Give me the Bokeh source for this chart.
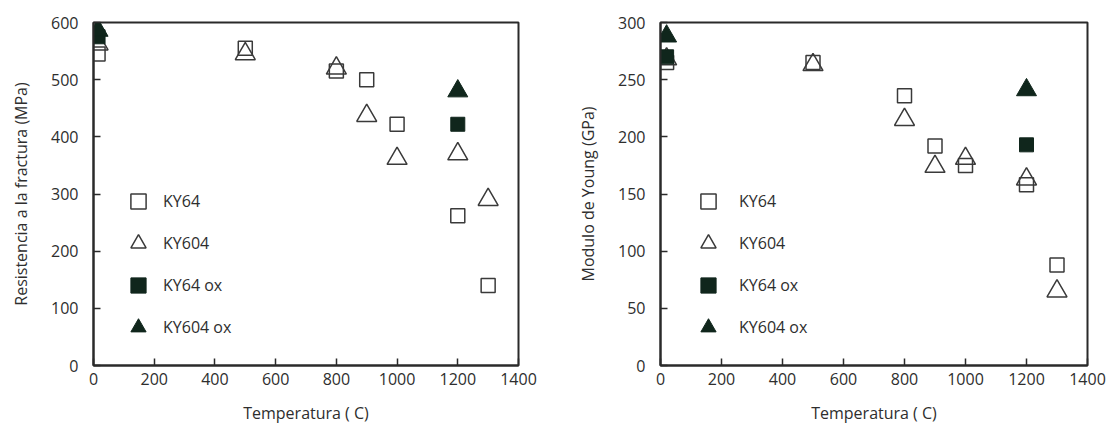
from bokeh.plotting import figure
from bokeh.models import Legend, LegendItem, FixedTicker, Range1d
from bokeh.layouts import row
from bokeh.embed import file_html
from bokeh.resources import INLINE

# ---- data: left panel (fracture strength, MPa) ----
t_ky64_l = [15, 500, 800, 900, 1000, 1200, 1300]
s_ky64 = [545, 555, 515, 500, 422, 262, 140]
t_ky604_l = [15, 500, 800, 900, 1000, 1200, 1300]
s_ky604 = [562, 545, 520, 437, 362, 370, 290]
t_ky64ox_l = [15, 1200]
s_ky64ox = [575, 422]
t_ky604ox_l = [15, 1200]
s_ky604ox = [586, 480]

# ---- data: right panel (Young's modulus, GPa) ----
t_ky64_r = [20, 500, 800, 900, 1000, 1200, 1300]
e_ky64 = [265, 265, 236, 192, 175, 158, 88]
t_ky604_r = [20, 500, 800, 900, 1000, 1200, 1300]
e_ky604 = [268, 263, 215, 174, 181, 163, 65]
t_ky64ox_r = [20, 1200]
e_ky64ox = [270, 193]
t_ky604ox_r = [20, 1200]
e_ky604ox = [288, 241]

series_names = ["KY64", "KY604", "KY64 ox", "KY604 ox"]
x_ticks = [0, 200, 400, 600, 800, 1000, 1200, 1400]
y_ticks_l = [0, 100, 200, 300, 400, 500, 600]
y_ticks_r = [0, 50, 100, 150, 200, 250, 300]

FONT = "Open Sans"
LINE = "#3a3a3a"
FILL = "#10261c"


def make_panel(xs, ys, y_max, y_ticks, y_title, min_left, min_right, frame_w,
               leg_x, leg_standoff, title_standoff):
    p = figure(frame_width=frame_w, frame_height=343,
               min_border_left=min_left, min_border_right=min_right,
               min_border_top=22, min_border_bottom=20,
               x_range=Range1d(0, 1400), y_range=Range1d(0, y_max),
               output_backend="svg", toolbar_location=None)
    p.grid.visible = False
    p.outline_line_color = "#2a2a2a"
    p.outline_line_width = 2
    p.background_fill_color = "white"
    p.border_fill_color = "white"

    for ax in (p.xaxis[0], p.yaxis[0]):
        ax.axis_line_color = "#2a2a2a"
        ax.axis_line_width = 2
        ax.major_tick_in = 7
        ax.major_tick_out = 0
        ax.major_tick_line_color = "#2a2a2a"
        ax.major_tick_line_width = 1.5
        ax.minor_tick_line_color = None
        ax.major_label_text_font = FONT
        ax.major_label_text_font_size = "16px"
        ax.major_label_text_color = "#2e2e2e"
        ax.axis_label_text_font = FONT
        ax.axis_label_text_font_size = "16px"
        ax.axis_label_text_font_style = "normal"
        ax.axis_label_text_color = "#2e2e2e"

    p.xaxis.ticker = FixedTicker(ticks=x_ticks)
    p.yaxis.ticker = FixedTicker(ticks=y_ticks)
    p.xaxis.major_label_standoff = 7
    p.yaxis.major_label_standoff = 15
    p.xaxis.axis_label = "Temperatura ( C)"
    p.xaxis.axis_label_standoff = 14
    p.yaxis.axis_label = y_title
    p.yaxis.axis_label_standoff = title_standoff

    r1 = p.scatter(xs[0], ys[0], marker="square", size=14, fill_color=None,
                   line_color=LINE, line_width=1.5)
    r2 = p.scatter(xs[1], ys[1], marker="triangle", size=20, fill_color=None,
                   line_color=LINE, line_width=1.5)
    r3 = p.scatter(xs[2], ys[2], marker="square", size=14, fill_color=FILL,
                   line_color=FILL, line_width=1)
    r4 = p.scatter(xs[3], ys[3], marker="triangle", size=20, fill_color=FILL,
                   line_color=FILL, line_width=1)

    items = [LegendItem(label=n, renderers=[r]) for n, r in zip(series_names, [r1, r2, r3, r4])]
    leg = Legend(items=items, location=(leg_x, 19), padding=0, margin=0,
                 glyph_width=38, glyph_height=38, label_height=20, spacing=4,
                 label_standoff=leg_standoff, label_text_font=FONT,
                 label_text_font_size="16px", label_text_color="#2e2e2e",
                 border_line_alpha=0, background_fill_alpha=0)
    p.add_layout(leg, "center")
    return p


p1 = make_panel([t_ky64_l, t_ky604_l, t_ky64ox_l, t_ky604ox_l],
                [s_ky64, s_ky604, s_ky64ox, s_ky604ox],
                600, y_ticks_l, "Resistencia a la fractura (MPa)",
                93, 35, 425, 26, 6, 16)
p2 = make_panel([t_ky64_r, t_ky604_r, t_ky64ox_r, t_ky604ox_r],
                [e_ky64, e_ky604, e_ky64ox, e_ky604ox],
                300, y_ticks_r, "Modulo de Young (GPa)",
                107, 23, 427, 29, 12, 16)

layout = row(p1, p2)
open("out.html", "w").write(file_html(layout, INLINE))
